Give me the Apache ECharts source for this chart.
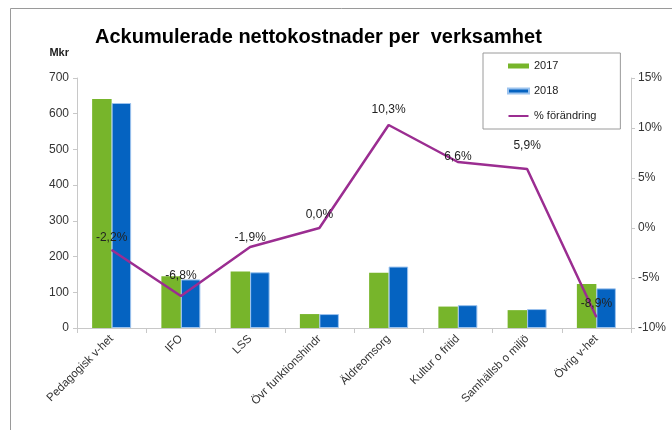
<!DOCTYPE html>
<html><head><meta charset="utf-8">
<script src="https://cdn.jsdelivr.net/npm/echarts@6/dist/echarts.min.js"></script>
<style>html,body{margin:0;padding:0;background:#fff}#c{width:672px;height:430px}</style>
</head><body><div id="c"></div>
<script>
const categories = ['Pedagogisk v-het','IFO','LSS','Övr funktionshindr','Äldreomsorg','Kultur o fritid','Samhällsb o miljö','Övrig v-het'];
const values2017 = [641, 145, 158, 39, 155, 60, 50, 123];
const values2018 = [630, 136, 156, 39, 172, 64, 53, 111];
const changePct = [-2.2, -6.8, -1.9, 0.0, 10.3, 6.6, 5.9, -8.9];
const leftTicks = [0, 700, 100];
const rightTicks = [-10, 15, 5];
const labelDist = [6, 14, 3, 7, 9, -1, 17, 7];

const chart = echarts.init(document.getElementById('c'));
const font = 'Liberation Sans, Arial, sans-serif';
const lineIcon = 'path://M0,0L0.01,0L0.01,0.01Z M0,1.6L20,1.6L20,3.4L0,3.4Z M0,5L0.01,5L0.01,4.99Z';
chart.setOption({
  animation: false,
  textStyle: {fontFamily: font},
  graphic: [{type:'rect', shape:{x:10.5,y:8.5,width:700,height:500}, style:{fill:'none', stroke:'#9a9a9a', lineWidth:1}, silent:true}],
  title: {text:'Ackumulerade nettokostnader per  verksamhet', left: 90, top: 22,
    textStyle:{fontSize:20, fontWeight:'bold', color:'#000', fontFamily:font}},
  legend: {orient:'vertical', left:483, top:53, padding:[6,24,6,24], itemGap:11,
    itemWidth:21, itemHeight:5, borderColor:'#9a9a9a', borderWidth:1,
    textStyle:{fontSize:11, color:'#222', lineHeight:14, height:14},
    data:[{name:'2017', icon:'rect'},{name:'2018', icon:'rect'},{name:'% förändring', icon: lineIcon, itemStyle:{color:'#9b2d91'}}]},
  grid: {left:77, right:41, top:78, bottom:102},
  xAxis: {type:'category', data:categories,
    axisLine:{lineStyle:{color:'#c8c8c8'}},
    axisTick:{show:true, length:5, lineStyle:{color:'#c8c8c8'}},
    axisLabel:{rotate:45, fontSize:11.5, color:'#333', margin:9, interval:0}},
  yAxis: [
    {type:'value', min:leftTicks[0], max:leftTicks[1], interval:leftTicks[2],
      name:'Mkr', nameLocation:'end', nameGap:20, nameTextStyle:{fontSize:11, fontWeight:'bold', color:'#222', align:'right', padding:[0,8,0,0]},
      axisLine:{show:true, lineStyle:{color:'#c8c8c8'}},
      axisTick:{show:true, length:4, lineStyle:{color:'#c8c8c8'}},
      axisLabel:{fontSize:12, color:'#333', margin:8},
      splitLine:{show:false}},
    {type:'value', min:rightTicks[0], max:rightTicks[1], interval:rightTicks[2], position:'right',
      axisLine:{show:true, lineStyle:{color:'#c8c8c8'}},
      axisTick:{show:true, length:4, lineStyle:{color:'#c8c8c8'}},
      axisLabel:{fontSize:12, color:'#333', margin:7, formatter: v => v + '%'},
      splitLine:{show:false}}
  ],
  series: [
    {name:'2017', type:'bar', data:values2017, barWidth:19.5, barGap:'0%',
      itemStyle:{color:'#77b52b'}},
    {name:'2018', type:'bar', data:values2018, barWidth:19.5,
      itemStyle:{color:'#0563c1', borderColor:'#9cc3ee', borderWidth:1}},
    {name:'% förändring', type:'line', yAxisIndex:1, symbol:'circle', symbolSize:1, showSymbol:true,
      lineStyle:{color:'#9b2d91', width:2.5}, itemStyle:{color:'#9b2d91'},
      data: changePct.map((v,i) => ({value:v, label:{distance:labelDist[i]}})),
      label:{show:true, position:'top', fontSize:12, color:'#222',
        formatter: p => p.value.toFixed(1).replace('.', ',') + '%'}}
  ]
});
</script></body></html>
